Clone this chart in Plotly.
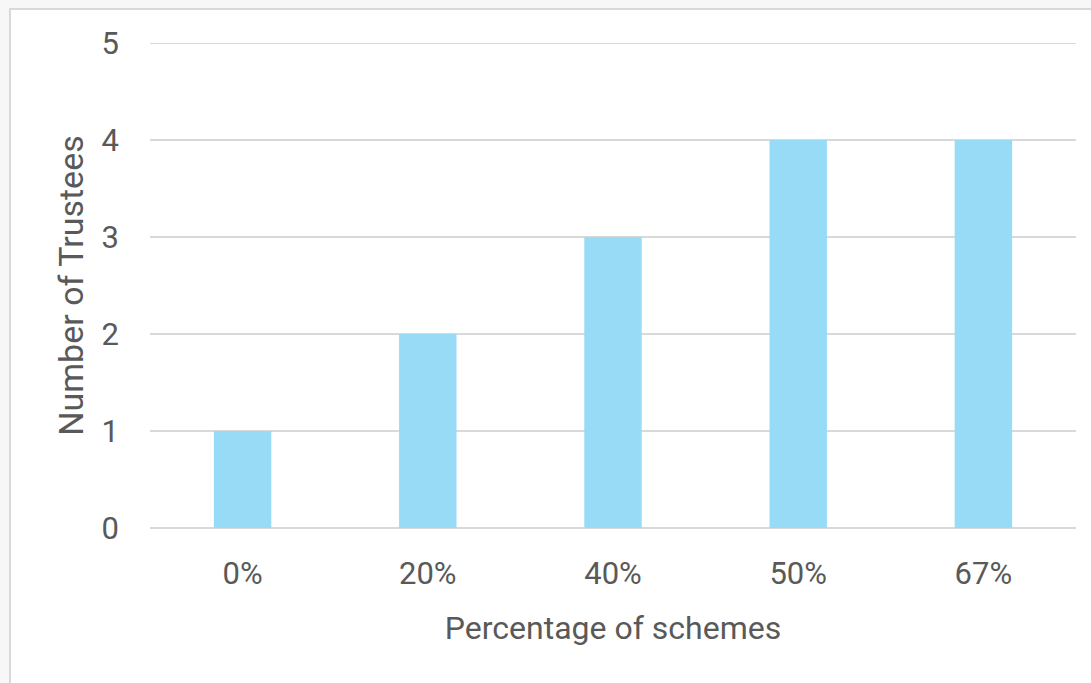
import plotly.graph_objects as go

categories = ["0%", "20%", "40%", "50%", "67%"]
trustees = [1, 2, 3, 4, 4]
y_ticks = [0, 1, 2, 3, 4, 5]

W, H = 1091, 683
L, R, T, B = 150, 15, 43, 155
pw, ph = W - L - R, H - T - B

def px_x(x):
    return (x - L) / pw

def px_y(y):
    return (H - B - y) / ph

font_family = "Roboto, Liberation Sans, Arial, sans-serif"
text_color = "#595959"
grid_color = "#d9d9d9"

fig = go.Figure(
    go.Bar(
        x=categories,
        y=trustees,
        marker=dict(color="#97dbf7", line=dict(width=0)),
        hoverinfo="x+y",
    )
)

fig.update_layout(
    width=W,
    height=H,
    margin=dict(l=L, r=R, t=T, b=B, pad=0),
    paper_bgcolor="#f7f7f7",
    plot_bgcolor="rgba(0,0,0,0)",
    bargap=0.69,
    showlegend=False,
    font=dict(family=font_family, color=text_color, size=31),
    shapes=[
        # white card behind the chart
        dict(
            type="rect", xref="paper", yref="paper", layer="below",
            x0=px_x(10), x1=px_x(W + 20), y0=px_y(H + 20), y1=px_y(9),
            fillcolor="white", line=dict(color=grid_color, width=2),
        ),
        # gridline at the top of the value axis
        dict(
            type="line", xref="paper", yref="y", layer="below",
            x0=0, x1=1, y0=max(y_ticks), y1=max(y_ticks),
            line=dict(color=grid_color, width=2),
        ),
    ],
)

fig.update_xaxes(
    showgrid=False,
    showline=False,
    zeroline=False,
    ticks="",
    tickfont=dict(size=31, color=text_color),
    ticklabelstandoff=24,
    title=dict(text="Percentage of schemes", font=dict(size=32, color=text_color), standoff=25),
)

fig.update_yaxes(
    range=[0, 5],
    tickvals=y_ticks,
    showgrid=True,
    gridcolor=grid_color,
    gridwidth=2,
    zeroline=True,
    zerolinecolor=grid_color,
    zerolinewidth=2,
    showline=False,
    ticks="",
    tickfont=dict(size=31, color=text_color),
    ticklabelstandoff=30,
    title=dict(text="Number of Trustees", font=dict(size=34, color=text_color), standoff=7),
)

fig.write_html("out.html")
